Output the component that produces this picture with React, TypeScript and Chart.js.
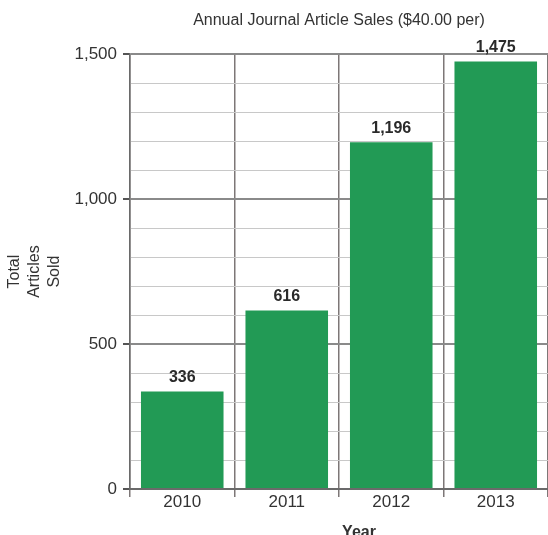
import { useEffect, useRef } from "react";
import { Chart, registerables } from "chart.js";

Chart.register(...registerables);

// Yearly article sales
const years = ["2010", "2011", "2012", "2013"];
const articlesSold = [336, 616, 1196, 1475];

// Value axis
const yMin = 0;
const yMax = 1500;
const yStep = 100;
const yMajorStep = 500;

// Text
const chartTitle = "Annual Journal Article Sales ($40.00 per)";
const yAxisTitle = ["Total", "Articles", "Sold"];
const xAxisTitle = "Year";

const FONT = "'Liberation Sans', Arial, Helvetica, sans-serif";
const BAR_GREEN = "#229a55";

const isMajor = (v: number) => v % yMajorStep === 0;

// Writes each bar's value just above it
const valueLabels = {
  id: "valueLabels",
  afterDatasetsDraw(chart: any) {
    const { ctx } = chart;
    const meta = chart.getDatasetMeta(0);
    ctx.save();
    ctx.font = `bold 16px ${FONT}`;
    ctx.fillStyle = "#2a2a2a";
    ctx.textAlign = "center";
    ctx.textBaseline = "middle";
    meta.data.forEach((bar: any, i: number) => {
      ctx.fillText(articlesSold[i].toLocaleString("en-US"), bar.x, bar.y - 14);
    });
    ctx.restore();
  },
};

// Category axis caption, set slightly right of the plot centre
const categoryCaption = {
  id: "categoryCaption",
  afterDraw(chart: any) {
    const { ctx, chartArea } = chart;
    ctx.save();
    ctx.font = `bold 16px ${FONT}`;
    ctx.fillStyle = "#333";
    ctx.textAlign = "center";
    ctx.textBaseline = "alphabetic";
    ctx.fillText(xAxisTitle, (chartArea.left + chartArea.right) / 2 + 20, chartArea.bottom + 48);
    ctx.restore();
  },
};

export default function App() {
  const canvasRef = useRef<HTMLCanvasElement | null>(null);

  useEffect(() => {
    if (!canvasRef.current) return;
    Chart.defaults.font.family = FONT;

    const chart = new Chart(canvasRef.current, {
      type: "bar",
      data: {
        labels: years,
        datasets: [
          {
            data: articlesSold,
            backgroundColor: BAR_GREEN,
            borderWidth: 0,
            barPercentage: 0.79,
            categoryPercentage: 1,
          },
        ],
      },
      options: {
        animation: false,
        responsive: false,
        layout: { padding: { left: 0, right: 0, top: 0, bottom: 0 } },
        plugins: {
          legend: { display: false },
          tooltip: { enabled: false },
          title: {
            display: true,
            text: chartTitle,
            fullSize: false,
            color: "#333",
            font: { size: 16, weight: "normal" },
            padding: { top: 11, bottom: 24 },
          },
        },
        scales: {
          x: {
            afterFit: (scale: any) => {
              scale.height = 46;
            },
            grid: {
              offset: true,
              color: "#7d7777",
              lineWidth: 1.5,
              tickLength: 8,
              tickColor: "#7d7777",
            },
            border: { display: true, color: "#6a6a6a", width: 2 },
            ticks: {
              color: "#333",
              font: { size: 17 },
              padding: -5,
            },
          },
          y: {
            min: yMin,
            max: yMax,
            afterFit: (scale: any) => {
              scale.width = 130;
            },
            grid: {
              color: (c: any) => (isMajor(c.tick.value) ? "#8a8a8a" : "#c8c8c8"),
              lineWidth: (c: any) => (isMajor(c.tick.value) ? 2 : 1),
              tickColor: (c: any) => (isMajor(c.tick.value) ? "#555" : "rgba(0,0,0,0)"),
              tickLength: 7,
            },
            border: { display: true, color: "#6a6a6a", width: 1.5 },
            ticks: {
              stepSize: yStep,
              autoSkip: false,
              color: "#333",
              font: { size: 17 },
              padding: 6,
              callback: (v: any) => (isMajor(Number(v)) ? Number(v).toLocaleString("en-US") : ""),
            },
            title: {
              display: true,
              text: yAxisTitle,
              color: "#333",
              font: { size: 16, lineHeight: 1.25 },
              padding: { top: 5, bottom: 0 },
            },
          },
        },
      },
      plugins: [valueLabels, categoryCaption],
    });

    return () => chart.destroy();
  }, []);

  return (
    <div style={{ position: "absolute", left: 0, top: 0, width: 548, height: 535, background: "#fff" }}>
      <canvas ref={canvasRef} width={548} height={535} style={{ display: "block" }} />
    </div>
  );
}
